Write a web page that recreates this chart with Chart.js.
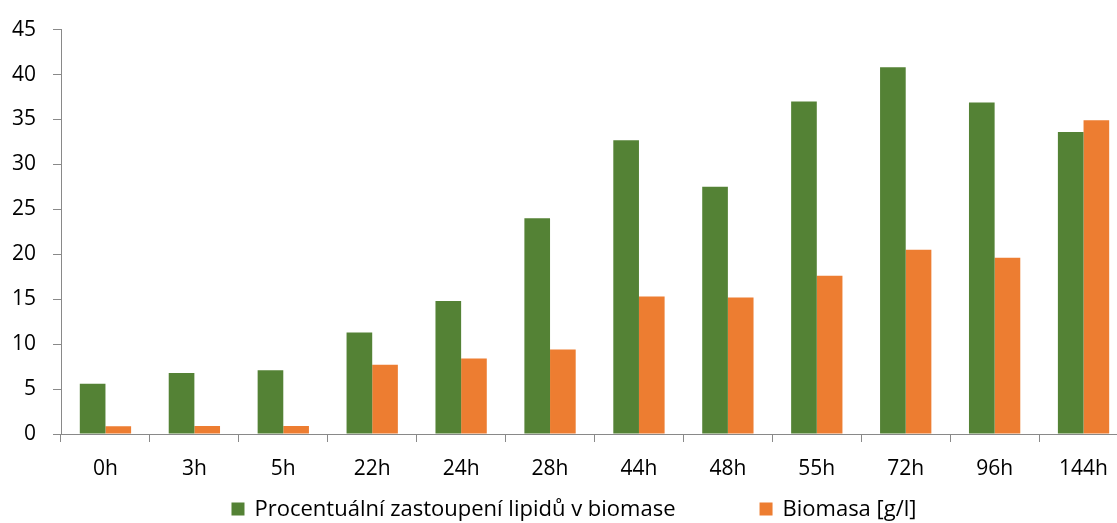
<!DOCTYPE html>
<html>
<head>
<meta charset="utf-8">
<script src="https://cdn.jsdelivr.net/npm/chart.js@4"></script>
<style>
  html, body { margin: 0; padding: 0; overflow: hidden; background: #fff; }
  #obal { width: 1148px; height: 523px; }
</style>
</head>
<body>
<div id="obal"><canvas id="graf"></canvas></div>
<script>
const kategorie = ['0h', '3h', '5h', '22h', '24h', '28h', '44h', '48h', '55h', '72h', '96h', '144h'];
const lipidy = [5.6, 6.8, 7.1, 11.3, 14.8, 24.0, 32.7, 27.5, 37.0, 40.8, 36.9, 33.6];
const biomasa = [0.85, 0.9, 0.9, 7.7, 8.4, 9.4, 15.3, 15.2, 17.6, 20.5, 19.6, 34.9];
const nazvy = ['Procentuální zastoupení lipidů v biomase', 'Biomasa [g/l]'];
const barvy = ['#548235', '#ED7D31'];

const pismo = { family: '"Open Sans", sans-serif', size: 21 };
const pismoLegendy = '22px "Open Sans", sans-serif';
const seda = '#898989';

// legenda kreslena rucne, kvuli velke mezere mezi polozkami
const legenda = {
    id: 'legenda',
    afterDraw(chart) {
        const ctx = chart.ctx;
        ctx.save();
        ctx.font = pismoLegendy;
        ctx.textBaseline = 'middle';
        const box = 13, mezera = 10, rozestup = 84;
        const sirky = nazvy.map(t => ctx.measureText(t).width);
        let celkem = 0;
        sirky.forEach((w, i) => { celkem += box + mezera + w + (i > 0 ? rozestup : 0); });
        let x = chart.width / 2 - celkem / 2;
        const y = 509;
        nazvy.forEach((t, i) => {
            ctx.fillStyle = barvy[i];
            ctx.fillRect(x, y - box / 2, box, box);
            ctx.fillStyle = '#000';
            ctx.fillText(t, x + box + mezera, y + 1);
            x += box + mezera + sirky[i] + rozestup;
        });
        ctx.restore();
    }
};

new Chart(document.getElementById('graf'), {
    type: 'bar',
    data: {
        labels: kategorie,
        datasets: [
            { label: nazvy[0], data: lipidy, backgroundColor: barvy[0] },
            { label: nazvy[1], data: biomasa, backgroundColor: barvy[1] }
        ]
    },
    options: {
        responsive: true,
        maintainAspectRatio: false,
        animation: false,
        categoryPercentage: 0.577,
        barPercentage: 1,
        layout: { padding: { top: 25, right: 20, bottom: 32, left: 0 } },
        plugins: {
            legend: { display: false },
            tooltip: { enabled: false }
        },
        scales: {
            x: {
                ticks: { color: '#000', font: pismo, padding: 14 },
                grid: { drawOnChartArea: false, tickLength: 8, color: seda, offset: true },
                border: { color: seda },
                afterFit: s => { s.height = 57; }
            },
            y: {
                min: 0,
                max: 45,
                ticks: { stepSize: 5, color: '#000', font: pismo, padding: 17 },
                grid: { drawOnChartArea: false, tickLength: 8, color: seda },
                border: { color: seda },
                afterFit: s => { s.width = 61; }
            }
        }
    },
    plugins: [legenda]
});
</script>
</body>
</html>
